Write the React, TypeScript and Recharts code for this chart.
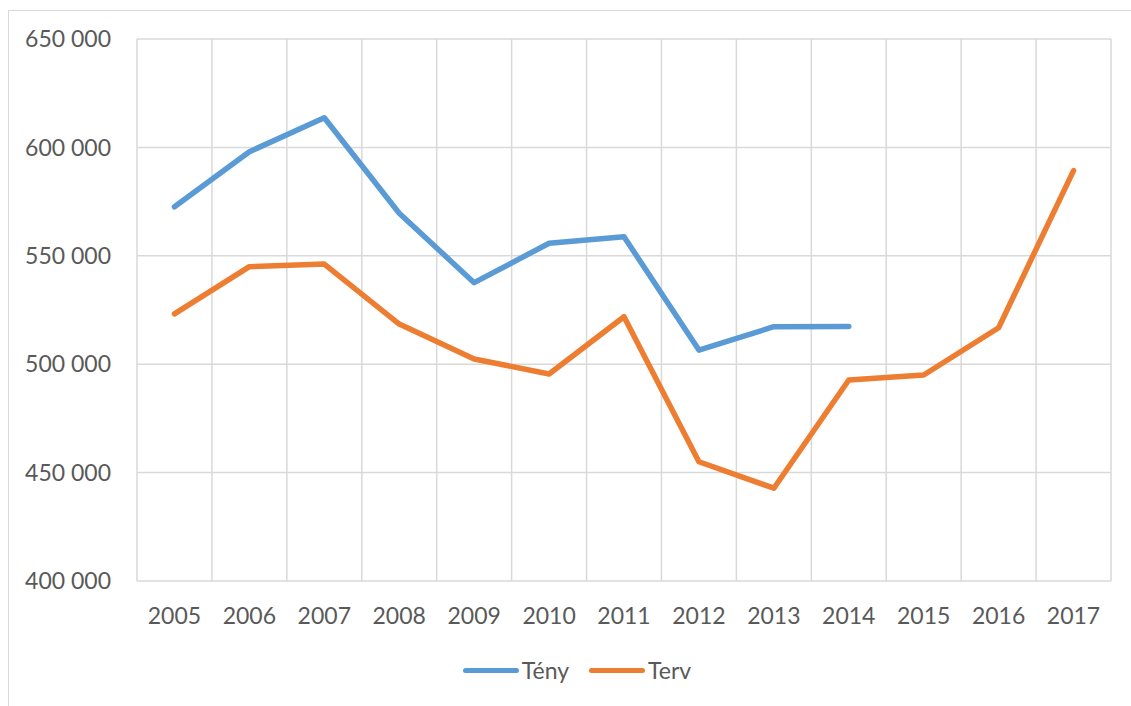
import { LineChart, Line, XAxis, YAxis, CartesianGrid } from "recharts";

const years = ["2005", "2006", "2007", "2008", "2009", "2010", "2011", "2012", "2013", "2014", "2015", "2016", "2017"];
const teny = [572600, 598000, 613700, 569600, 537600, 555800, 558800, 506500, 517300, 517400, null, null, null];
const terv = [523200, 545000, 546200, 518500, 502400, 495500, 521900, 455000, 442800, 492700, 495000, 516800, 589300];
const yTicks = [400000, 450000, 500000, 550000, 600000, 650000];

const series = [
  { key: "teny", name: "Tény", color: "#5B9BD5" },
  { key: "terv", name: "Terv", color: "#ED7D31" },
];

const data = years.map((year, i) => ({ year, teny: teny[i], terv: terv[i] }));

const FONT = "Lato, 'Open Sans', sans-serif";
const TEXT = "#595959";
const GRID = "#d9d9d9";

// 650000 -> "650 000"
const fmt = (v: number) => String(v).replace(/\B(?=(\d{3})+(?!\d))/g, " ");

// Excel-style vertical grid: on the edges of each category band, not the centres
function bandEdgeLines(props: any) {
  const { left, width } = props.offset;
  return [...years, ""].map((_, i) => left + (width * i) / years.length);
}

export default function App() {
  return (
    <div
      style={{
        position: "absolute",
        left: 0,
        top: 0,
        width: 1131,
        height: 706,
        overflow: "hidden",
        background: "#fff",
        fontFamily: FONT,
      }}
    >
      <div
        style={{
          position: "absolute",
          left: 8,
          top: 10,
          width: 1200,
          height: 800,
          border: `1px solid ${GRID}`,
        }}
      />
      <div style={{ position: "absolute", left: 0, top: 0 }}>
        <LineChart
          width={1131}
          height={706}
          data={data}
          margin={{ top: 39, right: 20, bottom: 95, left: 0 }}
        >
          <CartesianGrid
            stroke={GRID}
            strokeWidth={1.5}
            verticalCoordinatesGenerator={bandEdgeLines}
          />
          <XAxis
            dataKey="year"
            scale="band"
            height={30}
            axisLine={false}
            tickLine={false}
            tickSize={0}
            tickMargin={27}
            interval={0}
            tick={{ fill: TEXT, fontSize: 23, fontFamily: FONT }}
          />
          <YAxis
            width={137}
            domain={[400000, 650000]}
            ticks={yTicks}
            axisLine={false}
            tickLine={false}
            tickSize={0}
            tickMargin={26}
            tickFormatter={fmt}
            tick={{ fill: TEXT, fontSize: 23, fontFamily: FONT }}
          />
          {series.map((s) => (
            <Line
              key={s.key}
              dataKey={s.key}
              name={s.name}
              stroke={s.color}
              strokeWidth={5.5}
              strokeLinecap="round"
              strokeLinejoin="round"
              dot={false}
              activeDot={false}
              isAnimationActive={false}
            />
          ))}
        </LineChart>
      </div>
      <ul
        style={{
          position: "absolute",
          left: 8,
          top: 656,
          width: 1138,
          margin: 0,
          padding: 0,
          listStyle: "none",
          display: "flex",
          justifyContent: "center",
          gap: 20,
          fontSize: 23,
          lineHeight: "28px",
          color: TEXT,
        }}
      >
        {series.map((s) => (
          <li key={s.key} style={{ display: "flex", alignItems: "center", gap: 3 }}>
            <span
              style={{
                display: "inline-block",
                width: 56,
                height: 5,
                borderRadius: 3,
                background: s.color,
              }}
            />
            {s.name}
          </li>
        ))}
      </ul>
    </div>
  );
}
